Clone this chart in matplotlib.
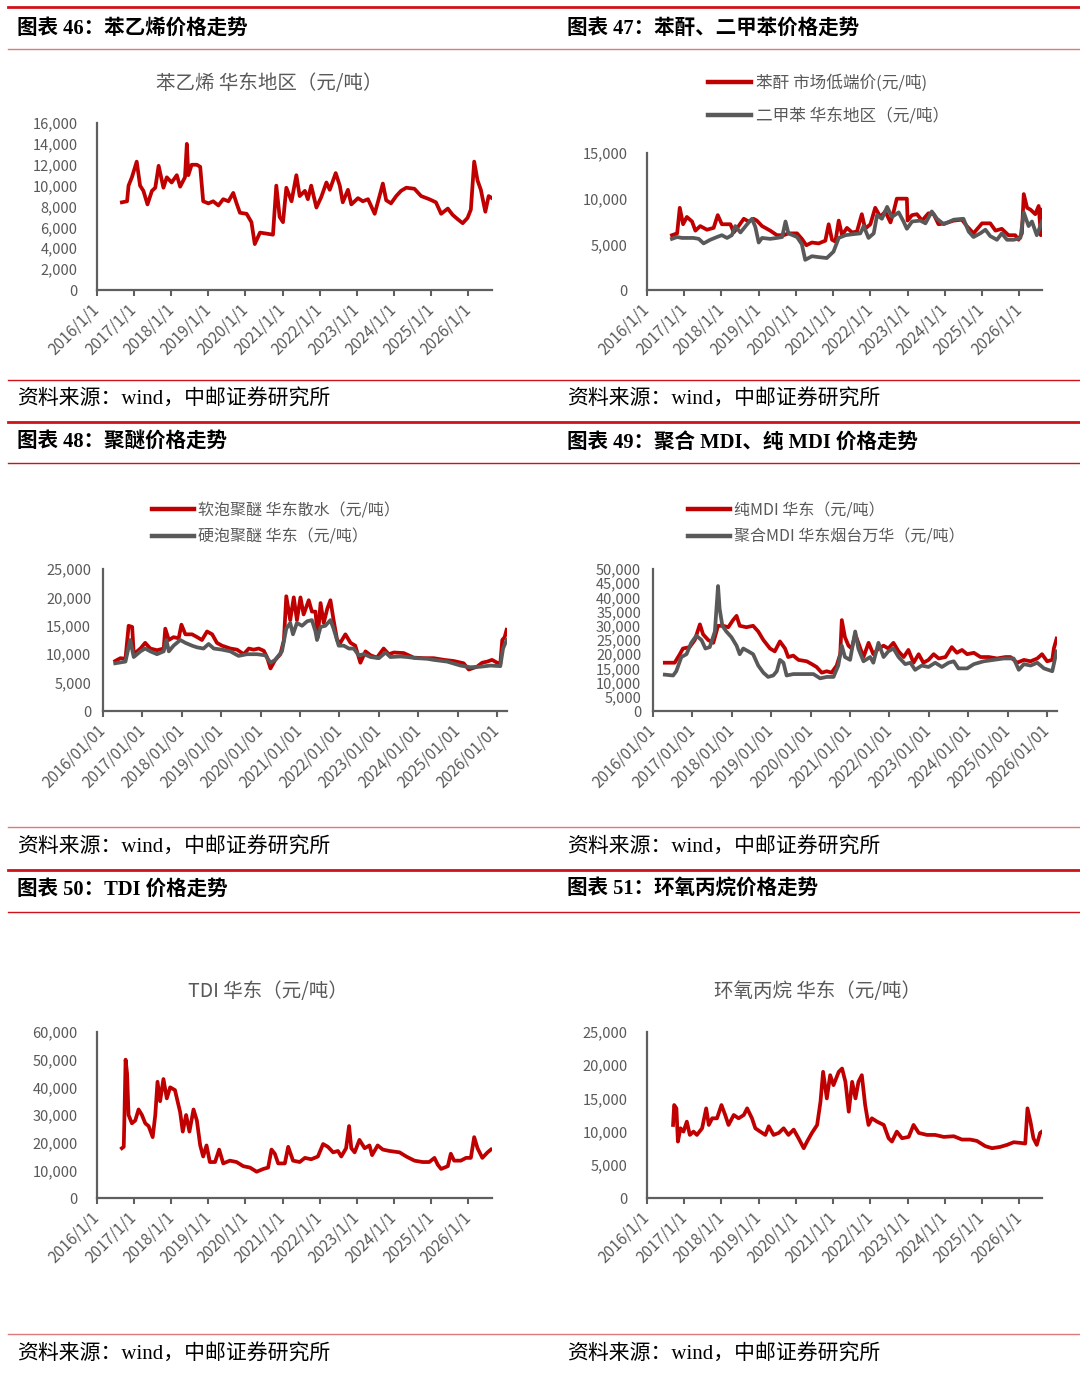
import numpy as np
import matplotlib
matplotlib.use('Agg')
import matplotlib.pyplot as plt
from matplotlib.lines import Line2D

plt.rcParams['font.family'] = ['Noto Sans CJK SC', 'DejaVu Sans']

# ---------------- data (decimal years, 元/吨) ----------------
# 图表46 苯乙烯 华东地区
sty_t = [2016.67, 2016.81, 2016.85, 2016.94, 2017.07, 2017.16, 2017.25, 2017.36, 2017.48, 2017.57,
         2017.66, 2017.79, 2017.88, 2018.01, 2018.15, 2018.24, 2018.37, 2018.42, 2018.46, 2018.55,
         2018.69, 2018.78, 2018.86, 2019.00, 2019.13, 2019.27, 2019.40, 2019.54, 2019.67, 2019.76,
         2019.85, 2020.03, 2020.16, 2020.25, 2020.39, 2020.57, 2020.74, 2020.83, 2020.92, 2021.01,
         2021.10, 2021.24, 2021.37, 2021.46, 2021.60, 2021.68, 2021.77, 2021.91, 2022.04, 2022.18,
         2022.27, 2022.43, 2022.54, 2022.62, 2022.76, 2022.85, 2023.03, 2023.16, 2023.30, 2023.48,
         2023.61, 2023.70, 2023.79, 2023.92, 2024.06, 2024.19, 2024.33, 2024.55, 2024.73, 2024.95,
         2025.13, 2025.27, 2025.45, 2025.58, 2025.71, 2025.85, 2025.98, 2026.07, 2026.16, 2026.25,
         2026.34, 2026.46, 2026.55, 2026.64]
sty_v = [8400, 8500, 10000, 10800, 12300, 10000, 9500, 8200, 9500, 9800,
         11900, 9800, 10800, 10300, 11000, 9900, 10800, 14000, 11000, 12000,
         12000, 11800, 8500, 8300, 8500, 8100, 8700, 8500, 9300, 8300,
         7400, 7300, 6500, 4400, 5500, 5400, 5300, 10000, 7000, 6500,
         9800, 8500, 11000, 9000, 9500, 8700, 10000, 7900, 8900, 10300,
         9600, 11200, 10000, 8400, 9600, 8200, 8800, 8500, 8700, 7300,
         9000, 10200, 8600, 8300, 9000, 9500, 9800, 9700, 9000, 8700,
         8400, 7300, 7800, 7200, 6800, 6400, 6900, 7700, 12300, 10500,
         9600, 7500, 9000, 8800]

# 图表47 苯酐 / 二甲苯
pa_t = [2016.67, 2016.81, 2016.88, 2016.97, 2017.07, 2017.21, 2017.30, 2017.43, 2017.61, 2017.79,
        2017.90, 2018.01, 2018.24, 2018.33, 2018.46, 2018.60, 2018.73, 2018.86, 2018.95, 2019.09,
        2019.31, 2019.49, 2019.67, 2019.80, 2020.03, 2020.16, 2020.28, 2020.43, 2020.61, 2020.79,
        2020.88, 2020.97, 2021.06, 2021.15, 2021.24, 2021.37, 2021.51, 2021.64, 2021.77, 2021.86,
        2022.00, 2022.13, 2022.27, 2022.40, 2022.54, 2022.62, 2022.71, 2022.98, 2023.00, 2023.12,
        2023.25, 2023.39, 2023.56, 2023.70, 2023.83, 2024.01, 2024.24, 2024.46, 2024.59, 2024.77,
        2025.00, 2025.22, 2025.36, 2025.53, 2025.71, 2025.89, 2025.98, 2026.07, 2026.12, 2026.21,
        2026.30, 2026.43, 2026.52, 2026.58, 2026.61]
pa_v = [6000, 6200, 9000, 7200, 8000, 7500, 6500, 7000, 6600, 6800,
        8200, 7200, 7200, 6300, 7000, 7800, 7500, 7800, 7600, 7000,
        6500, 6000, 6000, 6200, 6200, 5600, 4900, 5200, 5100, 5400,
        7200, 5500, 5300, 7600, 6000, 6800, 6300, 6400, 8300, 6700,
        7200, 9000, 8000, 8600, 7400, 8500, 10000, 10000, 7600, 8200,
        8300, 7600, 8400, 8300, 7200, 7300, 7600, 7700, 7000, 6200,
        7300, 7300, 6500, 6700, 6000, 6000, 5500, 6200, 10500, 9000,
        8800, 8300, 9200, 6000, 8800]
px_t = [2016.67, 2016.81, 2016.94, 2017.07, 2017.25, 2017.39, 2017.52, 2017.70, 2017.88, 2018.01,
        2018.15, 2018.28, 2018.37, 2018.51, 2018.69, 2018.82, 2018.91, 2019.00, 2019.09, 2019.31,
        2019.49, 2019.63, 2019.72, 2019.80, 2020.03, 2020.16, 2020.25, 2020.43, 2020.61, 2020.83,
        2021.01, 2021.15, 2021.33, 2021.51, 2021.73, 2021.82, 2021.95, 2022.09, 2022.18, 2022.31,
        2022.45, 2022.58, 2022.76, 2022.89, 2022.98, 2023.12, 2023.34, 2023.48, 2023.65, 2023.79,
        2023.97, 2024.24, 2024.50, 2024.64, 2024.77, 2024.95, 2025.09, 2025.22, 2025.40, 2025.53,
        2025.67, 2025.85, 2026.03, 2026.12, 2026.25, 2026.34, 2026.47, 2026.61]
px_v = [5600, 5800, 5700, 5700, 5700, 5600, 5100, 5500, 5800, 6000,
        5700, 6000, 7000, 6300, 7200, 7800, 6900, 5200, 5700, 5600,
        5700, 5800, 7500, 6200, 5800, 5000, 3300, 3700, 3600, 3500,
        4200, 5700, 6000, 6100, 6200, 7000, 5700, 6200, 8200, 7800,
        9100, 8000, 8500, 7500, 6700, 7500, 7600, 7300, 8600, 7800,
        7200, 7700, 7800, 6400, 5800, 6200, 6600, 5900, 5500, 6200,
        5500, 5500, 5700, 8500, 7000, 7500, 6000, 7500]

# 图表48 软泡聚醚 / 硬泡聚醚
ppg_t = [2016.31, 2016.44, 2016.57, 2016.65, 2016.74, 2016.78, 2016.95, 2017.07, 2017.20, 2017.37,
         2017.54, 2017.58, 2017.67, 2017.79, 2017.92, 2017.99, 2018.09, 2018.26, 2018.39, 2018.51,
         2018.64, 2018.77, 2018.89, 2019.02, 2019.23, 2019.40, 2019.57, 2019.70, 2019.82, 2019.95,
         2020.08, 2020.16, 2020.25, 2020.37, 2020.50, 2020.59, 2020.65, 2020.75, 2020.84, 2020.92,
         2021.01, 2021.09, 2021.22, 2021.30, 2021.39, 2021.45, 2021.52, 2021.60, 2021.69, 2021.77,
         2021.85, 2021.94, 2022.02, 2022.15, 2022.28, 2022.40, 2022.53, 2022.66, 2022.79, 2022.95,
         2023.12, 2023.25, 2023.38, 2023.63, 2023.88, 2024.14, 2024.39, 2024.65, 2024.90, 2025.15,
         2025.28, 2025.49, 2025.62, 2025.75, 2025.87, 2026.00, 2026.08, 2026.13, 2026.19, 2026.24]
ppg_v = [8800, 9300, 9200, 15000, 14800, 10000, 11000, 12000, 11000, 10700,
         11000, 14500, 12500, 13000, 12800, 15200, 13500, 13500, 13000, 12500,
         14000, 13500, 12000, 11500, 11000, 10800, 10000, 11000, 10800, 11000,
         10600, 9500, 7500, 9000, 10000, 12500, 20200, 16000, 20000, 16000,
         20000, 17000, 19500, 17500, 17500, 13000, 19000, 15500, 18000, 19500,
         16000, 12500, 12000, 13500, 12000, 11500, 8500, 10500, 9800, 9400,
         11000, 10000, 10300, 10200, 9400, 9300, 9300, 9000, 8800, 8400,
         7300, 7800, 8500, 8700, 9000, 8500, 8300, 12500, 13000, 14300]
rpu_t = [2016.31, 2016.57, 2016.69, 2016.78, 2016.95, 2017.07, 2017.20, 2017.37, 2017.54, 2017.61,
         2017.67, 2017.79, 2017.96, 2018.09, 2018.26, 2018.39, 2018.55, 2018.68, 2018.81, 2019.02,
         2019.23, 2019.44, 2019.65, 2019.91, 2020.12, 2020.25, 2020.37, 2020.54, 2020.65, 2020.75,
         2020.82, 2020.92, 2021.05, 2021.18, 2021.30, 2021.39, 2021.43, 2021.52, 2021.64, 2021.77,
         2021.85, 2021.98, 2022.11, 2022.24, 2022.36, 2022.49, 2022.62, 2022.79, 2023.00, 2023.17,
         2023.29, 2023.55, 2023.72, 2023.97, 2024.22, 2024.39, 2024.73, 2025.07, 2025.32, 2025.58,
         2025.83, 2026.08, 2026.15, 2026.24]
rpu_v = [8400, 8700, 12500, 9500, 10500, 11000, 10500, 10000, 10500, 12500,
         10500, 11500, 12500, 12000, 11500, 11200, 11000, 11800, 11000, 10800,
         10500, 9700, 10000, 10000, 9800, 8500, 9000, 10500, 14500, 15500,
         13500, 15500, 15000, 15800, 16000, 14000, 12500, 14800, 15000, 16000,
         14500, 11500, 11500, 11000, 11000, 9800, 10000, 9500, 9300, 10300,
         9500, 9600, 9500, 9300, 9200, 9000, 8700, 8000, 7700, 7800,
         8000, 7900, 11000, 12500]

# 图表49 纯MDI / 聚合MDI
mmdi_t = [2016.30, 2016.55, 2016.68, 2016.76, 2016.93, 2017.06, 2017.19, 2017.27, 2017.40, 2017.53,
          2017.65, 2017.78, 2017.91, 2018.03, 2018.12, 2018.20, 2018.37, 2018.54, 2018.67, 2018.80,
          2018.97, 2019.09, 2019.22, 2019.35, 2019.43, 2019.56, 2019.69, 2019.90, 2020.03, 2020.15,
          2020.28, 2020.41, 2020.53, 2020.66, 2020.75, 2020.79, 2020.87, 2020.96, 2021.04, 2021.13,
          2021.21, 2021.34, 2021.47, 2021.59, 2021.72, 2021.85, 2021.97, 2022.10, 2022.23, 2022.36,
          2022.48, 2022.61, 2022.74, 2022.86, 2022.99, 2023.12, 2023.25, 2023.42, 2023.58, 2023.71,
          2023.84, 2023.97, 2024.14, 2024.31, 2024.52, 2024.73, 2024.94, 2025.07, 2025.24, 2025.41,
          2025.58, 2025.75, 2025.87, 2026.00, 2026.13, 2026.17, 2026.24]
mmdi_v = [17000, 17000, 20000, 22000, 22500, 25000, 30500, 27000, 25000, 24000,
          30000, 30000, 29500, 32000, 33500, 30000, 29500, 30000, 28000, 25000,
          22000, 21000, 24500, 22000, 19000, 19500, 18000, 17500, 16500, 15500,
          13500, 14000, 13500, 16000, 20000, 32000, 26000, 23000, 22000, 27000,
          24000, 19000, 24000, 20000, 22000, 23000, 22000, 24000, 21000, 19000,
          21500, 17000, 20000, 17000, 18000, 20000, 18500, 19000, 22500, 20500,
          21500, 20000, 20500, 19000, 19000, 18500, 19000, 19000, 17000, 18000,
          17500, 18500, 20000, 17500, 18000, 22000, 25500]
pmdi_t = [2016.30, 2016.51, 2016.59, 2016.72, 2016.85, 2016.97, 2017.10, 2017.23, 2017.33, 2017.44,
          2017.57, 2017.65, 2017.69, 2017.76, 2017.86, 2017.99, 2018.12, 2018.20, 2018.29, 2018.42,
          2018.54, 2018.67, 2018.80, 2018.92, 2019.05, 2019.14, 2019.22, 2019.31, 2019.39, 2019.56,
          2019.81, 2020.07, 2020.24, 2020.41, 2020.58, 2020.70, 2020.79, 2020.87, 2021.00, 2021.13,
          2021.21, 2021.34, 2021.51, 2021.59, 2021.72, 2021.85, 2021.97, 2022.10, 2022.23, 2022.40,
          2022.53, 2022.65, 2022.82, 2022.99, 2023.16, 2023.33, 2023.50, 2023.63, 2023.75, 2023.97,
          2024.14, 2024.39, 2024.64, 2024.90, 2025.15, 2025.28, 2025.41, 2025.58, 2025.75, 2025.92,
          2026.13, 2026.24]
pmdi_v = [12800, 12500, 14000, 19000, 20000, 24000, 26500, 25000, 22000, 22500,
          28000, 44000, 36000, 30000, 28000, 26000, 23000, 20000, 22000, 21000,
          20000, 16000, 13500, 12000, 12500, 14000, 18000, 17000, 12500, 13000,
          13000, 13000, 11500, 12000, 12000, 16000, 23000, 19000, 18000, 28000,
          22000, 17500, 19000, 17000, 24000, 19000, 21000, 22000, 19000, 16500,
          17000, 14500, 16000, 15500, 17000, 15500, 17000, 17500, 15000, 15000,
          16500, 17500, 18000, 18500, 18500, 14500, 16500, 16000, 17000, 15000,
          14000, 21000]

# 图表50 TDI 华东
tdi_t = [2016.67, 2016.72, 2016.74, 2016.77, 2016.81, 2016.85, 2016.94, 2017.03, 2017.12, 2017.21,
         2017.30, 2017.39, 2017.50, 2017.57, 2017.63, 2017.70, 2017.79, 2017.88, 2017.97, 2018.10,
         2018.24, 2018.31, 2018.40, 2018.49, 2018.60, 2018.69, 2018.78, 2018.86, 2018.95, 2019.04,
         2019.18, 2019.29, 2019.40, 2019.58, 2019.76, 2019.94, 2020.12, 2020.30, 2020.48, 2020.61,
         2020.70, 2020.79, 2020.88, 2021.06, 2021.15, 2021.28, 2021.46, 2021.60, 2021.77, 2021.95,
         2022.09, 2022.22, 2022.36, 2022.49, 2022.58, 2022.71, 2022.79, 2022.85, 2022.94, 2023.07,
         2023.21, 2023.34, 2023.41, 2023.56, 2023.70, 2023.88, 2024.15, 2024.33, 2024.55, 2024.77,
         2024.95, 2025.09, 2025.18, 2025.27, 2025.45, 2025.53, 2025.62, 2025.80, 2025.94, 2026.07,
         2026.16, 2026.25, 2026.38, 2026.52, 2026.61]
tdi_v = [18000, 18500, 30000, 50000, 45000, 30000, 27000, 28000, 32000, 30000,
         27000, 26000, 22000, 30000, 42000, 35000, 43000, 36000, 40000, 39000,
         31000, 24000, 30000, 24000, 32000, 28000, 19000, 15000, 19000, 13000,
         13000, 17500, 12500, 13500, 13000, 11500, 11000, 9500, 10500, 11000,
         17500, 16000, 12500, 12500, 18500, 13500, 13000, 14500, 14000, 15000,
         19500, 18500, 16500, 17000, 15000, 18000, 26000, 18000, 16500, 21000,
         18000, 19000, 15500, 19000, 17500, 17000, 16500, 15000, 13500, 13000,
         13000, 14500, 12000, 10500, 11500, 16000, 13500, 13500, 14500, 14500,
         22000, 18000, 14500, 16500, 17500]

# 图表51 环氧丙烷 华东
po_t = [2016.70, 2016.73, 2016.79, 2016.83, 2016.90, 2016.98, 2017.07, 2017.15, 2017.25, 2017.34,
        2017.48, 2017.59, 2017.66, 2017.75, 2017.88, 2018.00, 2018.10, 2018.19, 2018.33, 2018.46,
        2018.60, 2018.69, 2018.82, 2018.91, 2019.04, 2019.18, 2019.27, 2019.40, 2019.54, 2019.67,
        2019.80, 2019.94, 2020.07, 2020.21, 2020.30, 2020.43, 2020.57, 2020.66, 2020.73, 2020.83,
        2020.92, 2021.01, 2021.15, 2021.24, 2021.33, 2021.42, 2021.51, 2021.60, 2021.68, 2021.77,
        2021.86, 2021.95, 2022.04, 2022.18, 2022.36, 2022.49, 2022.58, 2022.71, 2022.85, 2023.03,
        2023.16, 2023.30, 2023.52, 2023.74, 2023.97, 2024.24, 2024.46, 2024.68, 2024.86, 2025.09,
        2025.27, 2025.49, 2025.67, 2025.85, 2026.03, 2026.16, 2026.22, 2026.30, 2026.38, 2026.47,
        2026.56, 2026.61]
po_v = [11000, 14000, 13500, 8500, 10500, 10000, 11500, 9500, 10000, 9500,
        10500, 13500, 11000, 12000, 12000, 14000, 12500, 11000, 12500, 12000,
        12500, 13500, 12000, 10500, 10000, 9500, 10800, 9500, 9800, 10500,
        9500, 10300, 9000, 7500, 8500, 9800, 11000, 14500, 19000, 15000,
        18500, 17000, 19000, 19500, 17500, 13000, 17500, 15000, 17500, 18500,
        14000, 11000, 12000, 11500, 11000, 9000, 8500, 10000, 9000, 9200,
        11000, 9800, 9500, 9500, 9200, 9300, 8800, 8800, 8600, 7800,
        7500, 7700, 8000, 8400, 8300, 8200, 13500, 11500, 9000, 8000,
        9800, 10000]

years = list(range(2016, 2027))

# ---------------- styling ----------------
RED = '#C00000'
GRAY = '#595959'
TXT = '#595959'
RULE = '#D0111B'
W, H = 1080, 1377

fig = plt.figure(figsize=(W / 100, H / 100), dpi=100)
fig.patch.set_facecolor('white')


def box(l, r, b, t):
    return [l / W, 1 - b / H, (r - l) / W, (b - t) / H]


def rule(y, lw, color=RULE):
    fig.add_artist(Line2D([8 / W, 1.0], [1 - y / H, 1 - y / H], transform=fig.transFigure,
                          lw=lw, color=color))


def ftext(x, y, s, **kw):
    fig.text(x / W, 1 - y / H, s, **kw)


SERIF = ['Liberation Serif', 'Noto Sans CJK SC']


def header(x, y, s):
    ftext(x, y, s, fontsize=14.8, fontweight='bold', family=SERIF, va='center', ha='left')


def source(x, y):
    ftext(x, y, '资料来源：wind，中邮证券研究所', fontsize=15, family=SERIF, va='center', ha='left')


def setup(ax, xmax, ymax, ystep, fmt, ypad):
    ax.set_xlim(2016, xmax)
    ax.set_ylim(0, ymax)
    yt = list(range(0, ymax + 1, ystep))
    ax.set_yticks(yt)
    ax.set_yticklabels([f'{v:,}' for v in yt])
    ax.set_xticks(years)
    ax.set_xticklabels([fmt.format(y) for y in years], rotation=45, ha='right',
                       va='center', rotation_mode='anchor')
    for s in ['top', 'right']:
        ax.spines[s].set_visible(False)
    for s in ['left', 'bottom']:
        ax.spines[s].set_color('#5f5f5f')
        ax.spines[s].set_linewidth(1.6)
    ax.tick_params(axis='y', length=0, pad=ypad, labelsize=10.5, labelcolor=TXT)
    ax.tick_params(axis='x', length=4, width=1.5, color='#5f5f5f', direction='out',
                   pad=8, labelsize=11.2, labelcolor=TXT)
    ax.patch.set_alpha(0)


def legend(ax, x, y, handles_labels, fs, spacing):
    hs = [Line2D([], [], color=c, lw=3.2) for c, _ in handles_labels]
    ls = [l for _, l in handles_labels]
    lg = ax.legend(hs, ls, loc='upper left', bbox_to_anchor=(x / W, 1 - y / H),
                   bbox_transform=fig.transFigure, frameon=False, fontsize=fs,
                   handlelength=2.6, handletextpad=0.25, labelspacing=spacing,
                   borderpad=0, borderaxespad=0)
    for t in lg.get_texts():
        t.set_color(TXT)


LW = 2.7

# ---------------- rules & captions ----------------
rule(7, 2.0)
rule(49, 1.0, '#E07A7A')
rule(380, 1.0)
rule(422, 2.0)
rule(463, 1.0)
rule(827, 1.0, '#E07A7A')
rule(870, 2.0)
rule(912, 1.0)
rule(1334, 1.0, '#E07A7A')

header(17, 29, '图表 46：苯乙烯价格走势')
header(567, 29, '图表 47：苯酐、二甲苯价格走势')
header(17, 443, '图表 48：聚醚价格走势')
header(567, 443, '图表 49：聚合 MDI、纯 MDI 价格走势')
header(17, 890, '图表 50：TDI 价格走势')
header(567, 890, '图表 51：环氧丙烷价格走势')

for yy in (400, 848, 1355):
    source(17, yy)
    source(567, yy)

# ---------------- 图表46 ----------------
ax = fig.add_axes(box(97, 492, 290, 123))
ax.plot(sty_t, sty_v, color=RED, lw=LW)
setup(ax, 2026.64, 16000, 2000, '{}/1/1', 14)
ftext(269, 83, '苯乙烯 华东地区（元/吨）', fontsize=14, color=TXT, ha='center', va='center')

# ---------------- 图表47 ----------------
ax = fig.add_axes(box(647, 1042, 290, 153))
ax.plot(pa_t, pa_v, color=RED, lw=LW)
ax.plot(px_t, px_v, color=GRAY, lw=LW)
setup(ax, 2026.61, 15000, 5000, '{}/1/1', 14)
legend(ax, 708, 74, [(RED, '苯酐 市场低端价(元/吨)'), (GRAY, '二甲苯 华东地区（元/吨）')], 12, 0.97)

# ---------------- 图表48 ----------------
ax = fig.add_axes(box(103, 507, 711, 569))
ax.plot(ppg_t, ppg_v, color=RED, lw=LW)
ax.plot(rpu_t, rpu_v, color=GRAY, lw=LW)
setup(ax, 2026.25, 25000, 5000, '{}/01/01', 8.5)
legend(ax, 152, 502, [(RED, '软泡聚醚 华东散水（元/吨）'), (GRAY, '硬泡聚醚 华东（元/吨）')], 11.5, 0.6)

# ---------------- 图表49 ----------------
ax = fig.add_axes(box(653, 1057, 711, 569))
ax.plot(mmdi_t, mmdi_v, color=RED, lw=LW)
ax.plot(pmdi_t, pmdi_v, color=GRAY, lw=LW)
setup(ax, 2026.25, 50000, 5000, '{}/01/01', 8.5)
legend(ax, 688, 502, [(RED, '纯MDI 华东（元/吨）'), (GRAY, '聚合MDI 华东烟台万华（元/吨）')], 11.5, 0.6)

# ---------------- 图表50 ----------------
ax = fig.add_axes(box(97, 492, 1198, 1032))
ax.plot(tdi_t, tdi_v, color=RED, lw=LW)
setup(ax, 2026.64, 60000, 10000, '{}/1/1', 14)
ftext(268, 992, 'TDI 华东（元/吨）', fontsize=14, color=TXT, ha='center', va='center')

# ---------------- 图表51 ----------------
ax = fig.add_axes(box(647, 1042, 1198, 1032))
ax.plot(po_t, po_v, color=RED, lw=LW)
setup(ax, 2026.61, 25000, 5000, '{}/1/1', 14)
ftext(818, 992, '环氧丙烷 华东（元/吨）', fontsize=14, color=TXT, ha='center', va='center')

fig.savefig('out.png', dpi=100, facecolor='white')
